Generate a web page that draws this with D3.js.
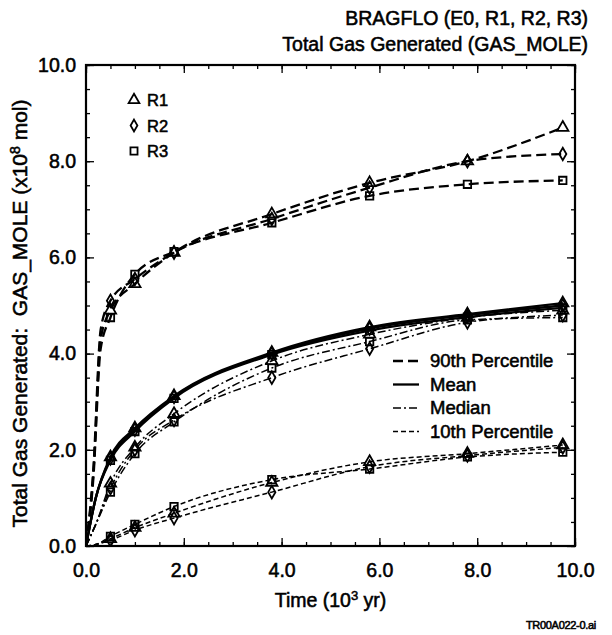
<!DOCTYPE html>
<html><head><meta charset="utf-8">
<script src="https://cdn.jsdelivr.net/npm/d3@7"></script>
<style>
html,body{margin:0;padding:0;background:#fff;}
text{font-family:"Liberation Sans",Arial,Helvetica,sans-serif;fill:#000;stroke:#000;stroke-width:0.55px;}
</style></head>
<body><svg id="c" width="612" height="635"></svg>
<script>
// ---- data ----
const markerTimes = [0.5, 1.0, 1.8, 3.8, 5.8, 7.8, 9.75];
const startTimes = [0, 0.2];
const startTimes90 = [0, 0.15, 0.3];

const p90_R1 = [4.90, 5.45, 6.10, 6.90, 7.55, 8.00, 8.70];
const p90_R2 = [5.10, 5.55, 6.10, 6.80, 7.45, 8.00, 8.15];
const p90_R3 = [4.75, 5.65, 6.12, 6.72, 7.28, 7.52, 7.60];
const p90_start_R1 = [0, 1.5, 4.3];
const p90_start_R2 = [0, 1.6, 4.5];
const p90_start_R3 = [0, 1.4, 4.1];

const mean_R1 = [1.85, 2.45, 3.12, 4.02, 4.55, 4.82, 5.05];
const mean_R2 = [1.82, 2.42, 3.10, 4.00, 4.52, 4.80, 5.00];
const mean_R3 = [1.78, 2.38, 3.07, 3.98, 4.48, 4.76, 4.95];
const mean_start = [0, 1.0];

const median_R1 = [1.30, 2.05, 2.75, 3.85, 4.40, 4.75, 4.90];
const median_R2 = [1.20, 2.00, 2.62, 3.50, 4.10, 4.65, 4.80];
const median_R3 = [1.12, 1.92, 2.58, 3.70, 4.25, 4.70, 4.75];
const median_start = [0, 0.45];

const p10_R1 = [0.15, 0.38, 0.68, 1.32, 1.75, 1.92, 2.10];
const p10_R2 = [0.12, 0.33, 0.58, 1.12, 1.65, 1.88, 2.05];
const p10_R3 = [0.20, 0.45, 0.82, 1.38, 1.60, 1.85, 1.95];
const p10_start = [0, 0.03];

const xMajor = [0, 2, 4, 6, 8, 10];
const yMajor = [0, 2, 4, 6, 8, 10];
const minorTicks = d3.range(0, 10.01, 0.5);
const realizations = ["R1", "R2", "R3"];
const statNames = ["90th Percentile", "Mean", "Median", "10th Percentile"];

// ---- layout ----
const L = 86, R = 575, T = 65, B = 546;
const svg = d3.select("#c");
const x = d3.scaleLinear().domain([0, 10]).range([L, R]);
const y = d3.scaleLinear().domain([0, 10]).range([B, T]);

const styles = {
  "90th Percentile": {dash: "10,5", w: 2.3},
  "Mean": {dash: null, w: 2.3},
  "Median": {dash: "8,3,2,3", w: 1.5},
  "10th Percentile": {dash: "5,3", w: 1.5}
};
const markerType = {R1: d3.symbolTriangle, R2: d3.symbolDiamond, R3: d3.symbolSquare};

const series = [
  {stat: "90th Percentile", r: "R1", st: startTimes90, sv: p90_start_R1, v: p90_R1},
  {stat: "90th Percentile", r: "R2", st: startTimes90, sv: p90_start_R2, v: p90_R2},
  {stat: "90th Percentile", r: "R3", st: startTimes90, sv: p90_start_R3, v: p90_R3},
  {stat: "Mean", r: "R1", st: startTimes, sv: mean_start, v: mean_R1},
  {stat: "Mean", r: "R2", st: startTimes, sv: mean_start, v: mean_R2},
  {stat: "Mean", r: "R3", st: startTimes, sv: mean_start, v: mean_R3},
  {stat: "Median", r: "R1", st: startTimes, sv: median_start, v: median_R1},
  {stat: "Median", r: "R2", st: startTimes, sv: median_start, v: median_R2},
  {stat: "Median", r: "R3", st: startTimes, sv: median_start, v: median_R3},
  {stat: "10th Percentile", r: "R1", st: startTimes, sv: p10_start, v: p10_R1},
  {stat: "10th Percentile", r: "R2", st: startTimes, sv: p10_start, v: p10_R2},
  {stat: "10th Percentile", r: "R3", st: startTimes, sv: p10_start, v: p10_R3}
];

svg.append("clipPath").attr("id", "clip").append("rect")
  .attr("x", L).attr("y", T).attr("width", R - L).attr("height", B - T);

const line = d3.line().x(d => x(d[0])).y(d => y(d[1])).curve(d3.curveMonotoneX);
const plot = svg.append("g").attr("clip-path", "url(#clip)");

series.forEach(s => {
  const pts = s.st.map((t, i) => [t, s.sv[i]]).concat(markerTimes.map((t, i) => [t, s.v[i]]));
  const st = styles[s.stat];
  plot.append("path").datum(pts).attr("d", line)
    .attr("fill", "none").attr("stroke", "#000").attr("stroke-width", st.w)
    .attr("stroke-dasharray", st.dash);
});
series.forEach(s => {
  plot.selectAll(null).data(markerTimes.map((t, i) => [t, s.v[i]])).enter()
    .append("path")
    .attr("d", d3.symbol().type(markerType[s.r]).size(s.r === "R2" ? 45 : 55))
    .attr("transform", d => `translate(${x(d[0])},${y(d[1])})`)
    .attr("fill", "none").attr("stroke", "#000").attr("stroke-width", 1.8);
});

// ---- axes (inward ticks, mirrored) ----
function styleAxis(g) {
  g.select(".domain").remove();
  g.selectAll("line").attr("stroke", "#000").attr("stroke-width", 1.3);
}
svg.append("g").attr("transform", `translate(0,${B})`)
  .call(d3.axisBottom(x).tickValues(minorTicks).tickSize(-4).tickFormat("")).call(styleAxis);
svg.append("g").attr("transform", `translate(0,${T})`)
  .call(d3.axisTop(x).tickValues(minorTicks).tickSize(-4).tickFormat("")).call(styleAxis);
svg.append("g").attr("transform", `translate(${L},0)`)
  .call(d3.axisLeft(y).tickValues(minorTicks).tickSize(-4).tickFormat("")).call(styleAxis);
svg.append("g").attr("transform", `translate(${R},0)`)
  .call(d3.axisRight(y).tickValues(minorTicks).tickSize(-4).tickFormat("")).call(styleAxis);

const xb = svg.append("g").attr("transform", `translate(0,${B})`)
  .call(d3.axisBottom(x).tickValues(xMajor).tickSize(-8).tickPadding(17).tickFormat(d3.format(".1f")))
  .call(styleAxis);
xb.selectAll("text").attr("font-size", 19.5).attr("dy", "0.71em");
svg.append("g").attr("transform", `translate(0,${T})`)
  .call(d3.axisTop(x).tickValues(xMajor).tickSize(-8).tickFormat("")).call(styleAxis);
const yl = svg.append("g").attr("transform", `translate(${L},0)`)
  .call(d3.axisLeft(y).tickValues(yMajor).tickSize(-8).tickPadding(10).tickFormat(d3.format(".1f")))
  .call(styleAxis);
yl.selectAll("text").attr("font-size", 19.5);
svg.append("g").attr("transform", `translate(${R},0)`)
  .call(d3.axisRight(y).tickValues(yMajor).tickSize(-8).tickFormat("")).call(styleAxis);

svg.append("rect").attr("x", L).attr("y", T).attr("width", R - L).attr("height", B - T)
  .attr("fill", "none").attr("stroke", "#000").attr("stroke-width", 2.2);

// ---- titles ----
svg.append("text").attr("x", 588).attr("y", 25).attr("text-anchor", "end")
  .attr("font-size", 19.5).text("BRAGFLO (E0, R1, R2, R3)");
svg.append("text").attr("x", 588).attr("y", 51).attr("text-anchor", "end")
  .attr("font-size", 19.5).text("Total Gas Generated (GAS_MOLE)");

const xt = svg.append("text").attr("x", (L + R) / 2).attr("y", 607).attr("text-anchor", "middle")
  .attr("font-size", 19.5);
xt.append("tspan").text("Time (10");
xt.append("tspan").attr("dy", -7).attr("font-size", 13).text("3");
xt.append("tspan").attr("dy", 7).text(" yr)");

const ytl = svg.append("text").attr("transform", `translate(27,${(T + B) / 2 + 8}) rotate(-90)`)
  .attr("text-anchor", "middle").attr("font-size", 21);
ytl.append("tspan").text("Total Gas Generated:\u00a0\u00a0GAS_MOLE (x10");
ytl.append("tspan").attr("dy", -7).attr("font-size", 14).text("8");
ytl.append("tspan").attr("dy", 7).text(" mol)");

svg.append("text").attr("x", 596).attr("y", 629).attr("text-anchor", "end")
  .attr("font-size", 11).attr("letter-spacing", -0.3).text("TR00A022-0.ai");

// ---- legends ----
const leg1 = svg.append("g");
realizations.forEach((r, i) => {
  const yy = 100 + i * 25.5;
  leg1.append("path").attr("d", d3.symbol().type(markerType[r]).size(r === "R2" ? 40 : 50))
    .attr("transform", `translate(134,${yy})`).attr("fill", "none").attr("stroke", "#000").attr("stroke-width", 1.8);
  leg1.append("text").attr("x", 147).attr("y", yy + 6).attr("font-size", 16.5).text(r);
});
const leg2 = svg.append("g");
statNames.forEach((s, i) => {
  const yy = 361 + i * 23.5;
  const st = styles[s];
  leg2.append("line").attr("x1", 393).attr("x2", 419).attr("y1", yy).attr("y2", yy)
    .attr("stroke", "#000").attr("stroke-width", st.w).attr("stroke-dasharray", st.dash);
  leg2.append("text").attr("x", 430).attr("y", yy + 6).attr("font-size", 18.5).text(s);
});
</script></body></html>
